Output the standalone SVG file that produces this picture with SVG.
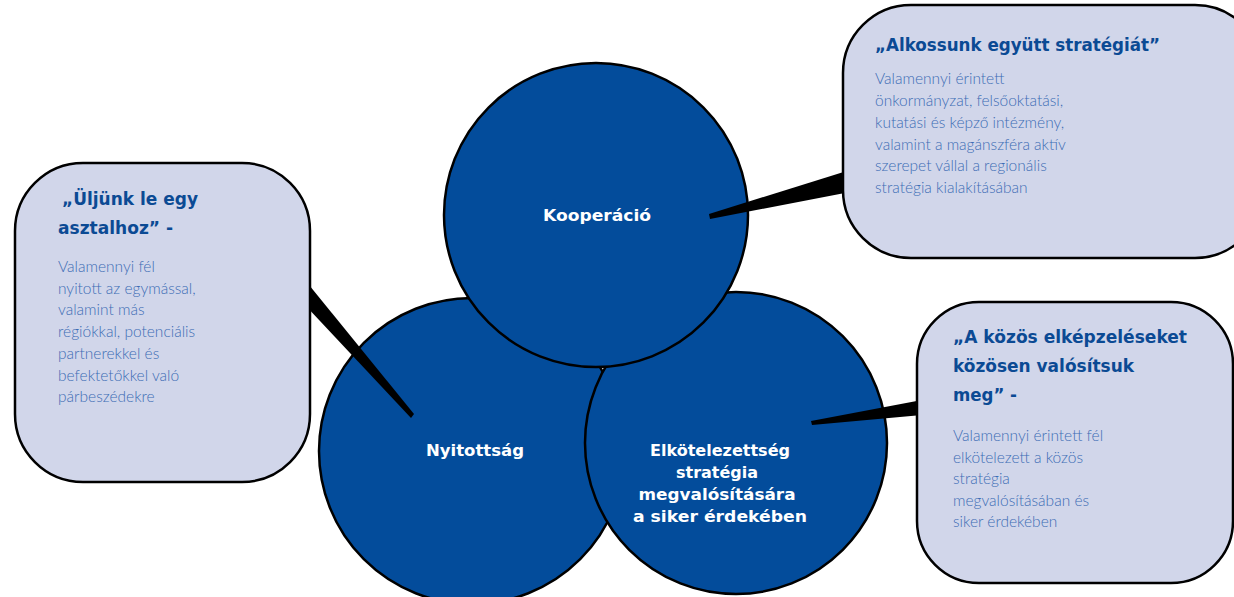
<svg xmlns="http://www.w3.org/2000/svg" width="1234" height="597" viewBox="0 0 1234 597">
<style>
.circ{fill:#034c9b;stroke:#000;stroke-width:2.5}
.box{fill:#d1d6ea;stroke:#000;stroke-width:2.5}
.wedge{fill:#000}
.ct{font-family:"DejaVu Sans","Liberation Sans",sans-serif;font-weight:700;font-size:16px;fill:#fff;text-anchor:middle}
.tt{font-family:"DejaVu Sans","Liberation Sans",sans-serif;font-weight:700;font-size:17px;fill:#0b4a94}
.bt{font-family:Lato,"Open Sans","Liberation Sans",sans-serif;font-weight:300;font-size:15.5px;fill:#3d6db5}
</style>
<g id="node-nyitottsag">
<circle class="circ" cx="472" cy="451" r="153"/>
<text class="ct" x="475" y="456" textLength="98" lengthAdjust="spacingAndGlyphs">Nyitottság</text>
</g>
<g id="node-elkotelezettseg">
<circle class="circ" cx="736" cy="443" r="151"/>
<text class="ct" x="720" y="456" textLength="140" lengthAdjust="spacingAndGlyphs">Elkötelezettség</text>
<text class="ct" x="717" y="478" textLength="82" lengthAdjust="spacingAndGlyphs">stratégia</text>
<text class="ct" x="717" y="500" textLength="157" lengthAdjust="spacingAndGlyphs">megvalósítására</text>
<text class="ct" x="720" y="522" textLength="174" lengthAdjust="spacingAndGlyphs">a siker érdekében</text>
</g>
<g id="node-kooperacio">
<circle class="circ" cx="596" cy="215" r="152"/>
<text class="ct" x="597" y="221" textLength="108" lengthAdjust="spacingAndGlyphs">Kooperáció</text>
</g>
<g id="connectors">
<polygon class="wedge" points="709,214 850,170 850,192 710,219"/>
<polygon class="wedge" points="811,421 922,400 922,415 812,425"/>
<polygon class="wedge" points="305,280 414,414 411,418 305,305"/>
</g>
<g id="note-alkossunk">
<rect class="box" x="843" y="5" width="420" height="253" rx="68" ry="68"/>
<text class="tt" x="875" y="51" textLength="285" lengthAdjust="spacingAndGlyphs">„Alkossunk együtt stratégiát”</text>
<text class="bt" x="875" y="84">Valamennyi érintett</text>
<text class="bt" x="875" y="106">önkormányzat, felsőoktatási,</text>
<text class="bt" x="875" y="128">kutatási és képző intézmény,</text>
<text class="bt" x="875" y="150">valamint a magánszféra aktív</text>
<text class="bt" x="875" y="171">szerepet vállal a regionális</text>
<text class="bt" x="875" y="193">stratégia kialakításában</text>
</g>
<g id="note-uljunk">
<rect class="box" x="15" y="163" width="295" height="319" rx="68" ry="68"/>
<text class="tt" x="62" y="205" textLength="136" lengthAdjust="spacingAndGlyphs">„Üljünk le egy</text>
<text class="tt" x="58" y="234" textLength="115" lengthAdjust="spacingAndGlyphs">asztalhoz” -</text>
<text class="bt" x="58" y="272">Valamennyi fél</text>
<text class="bt" x="58" y="294">nyitott az egymással,</text>
<text class="bt" x="58" y="315">valamint más</text>
<text class="bt" x="58" y="337">régiókkal,  potenciális</text>
<text class="bt" x="58" y="359">partnerekkel és</text>
<text class="bt" x="58" y="381">befektetőkkel való</text>
<text class="bt" x="58" y="402">párbeszédekre</text>
</g>
<g id="note-kozos">
<rect class="box" x="917" y="302" width="316" height="281" rx="62" ry="62"/>
<text class="tt" x="953" y="343" textLength="234" lengthAdjust="spacingAndGlyphs">„A közös elképzeléseket</text>
<text class="tt" x="953" y="372" textLength="181" lengthAdjust="spacingAndGlyphs">közösen valósítsuk</text>
<text class="tt" x="953" y="401" textLength="64" lengthAdjust="spacingAndGlyphs">meg” -</text>
<text class="bt" x="953" y="441">Valamennyi érintett fél</text>
<text class="bt" x="953" y="463">elkötelezett a közös</text>
<text class="bt" x="953" y="484">stratégia</text>
<text class="bt" x="953" y="506">megvalósításában és</text>
<text class="bt" x="953" y="527">siker érdekében</text>
</g>
</svg>
